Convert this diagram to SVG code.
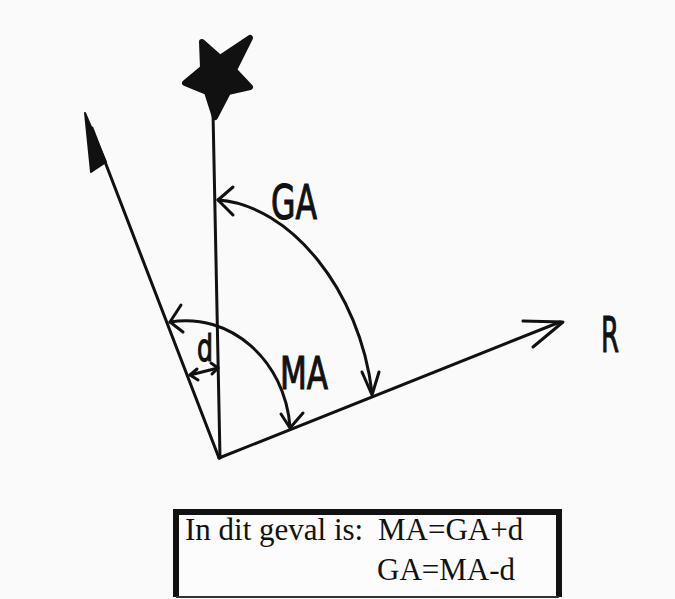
<svg xmlns="http://www.w3.org/2000/svg" width="675" height="599" viewBox="0 0 675 599">
<style>
.ln{fill:none;stroke:#111;stroke-width:3;stroke-linecap:round;stroke-linejoin:round}
.hand{font-family:"DejaVu Sans","Liberation Sans",sans-serif;fill:#111;stroke:#111;stroke-width:1.2}
.serif{font-family:"Liberation Serif","Times New Roman",serif;font-size:31px;fill:#111}
</style>
<rect width="675" height="599" fill="#fafafa"/>
<g id="star">
<polygon points="202,42 220,58 250,38 234,70 250,87 228,92 215,117 207,92 185,83 203,68" fill="#111" stroke="#111" stroke-width="6" stroke-linejoin="round"/>
</g>
<g id="connectors">
<path class="ln" d="M213,112 L220,458"/>
<path class="ln" d="M219,458 L92,128"/>
<polygon points="85,113 91,172 106,162" fill="#111" stroke="#111" stroke-width="2" stroke-linejoin="round"/>
<path class="ln" d="M219,458 L560,322"/>
<path class="ln" d="M523,321 L563,322 L533,347"/>
<path class="ln" d="M218,200 C290,205 360,290 372,393"/>
<path class="ln" d="M233,187 L218,200 L233,215"/>
<path class="ln" d="M362,372 L372,395 L379,372"/>
<path class="ln" d="M170,322 C230,312 285,360 290,427"/>
<path class="ln" d="M181,305 L170,322 L183,332"/>
<path class="ln" d="M281,414 L290,428 L303,413"/>
<path class="ln" d="M190,375 L218,368"/>
<path class="ln" d="M197,369 L190,375 L198,380"/>
<path class="ln" d="M211,363 L218,368 L212,374"/>
</g>
<g id="label-GA"><text class="hand" x="271" y="219" font-size="48" textLength="46" lengthAdjust="spacingAndGlyphs">GA</text></g>
<g id="label-MA"><text class="hand" x="280" y="389" font-size="44" textLength="48" lengthAdjust="spacingAndGlyphs">MA</text></g>
<g id="label-d"><text class="hand" x="197" y="361" font-size="38" textLength="16" lengthAdjust="spacingAndGlyphs">d</text></g>
<g id="label-R"><text class="hand" x="601" y="352" font-size="50" textLength="18" lengthAdjust="spacingAndGlyphs">R</text></g>
<g id="box">
<rect x="176" y="512" width="383" height="85" fill="#fcfcfc"/>
<path d="M176,597 L176,512 L559,512 L559,597" fill="none" stroke="#111" stroke-width="6"/>
<path d="M176,597 L559,597" fill="none" stroke="#333" stroke-width="2"/>
<text class="serif" x="185" y="540">In dit geval is: <tspan x="378">MA=GA+d</tspan></text>
<text class="serif" x="377" y="580">GA=MA-d</text>
</g>
</svg>
